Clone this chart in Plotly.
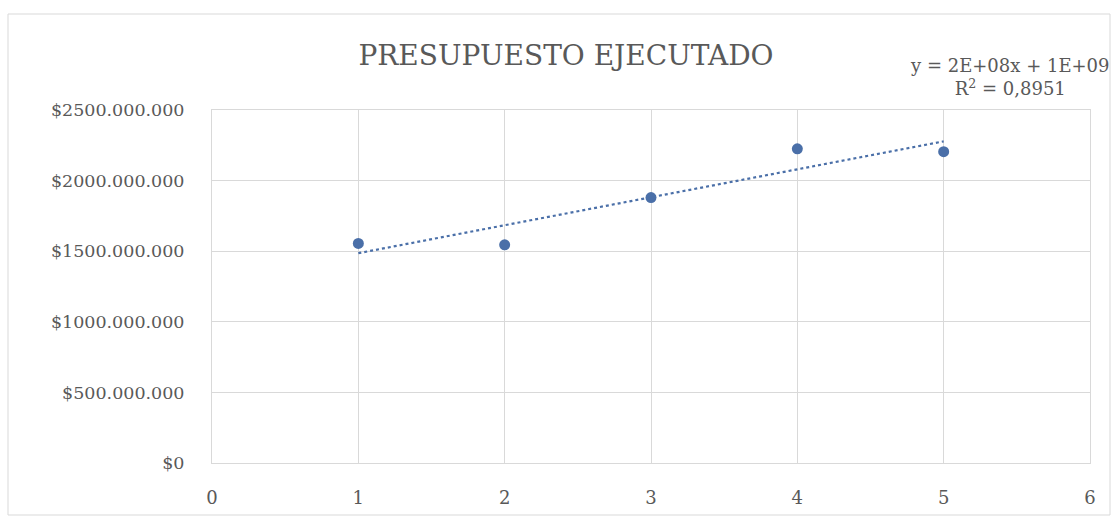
import numpy as np
import plotly.graph_objects as go

x_vals = [1, 2, 3, 4, 5]
y_vals = [1555000000, 1545000000, 1880000000, 2225000000, 2205000000]
y_ticks = [0, 500000000, 1000000000, 1500000000, 2000000000, 2500000000]
y_ticklabels = ["$0", "$500.000.000", "$1000.000.000", "$1500.000.000", "$2000.000.000", "$2500.000.000"]
x_ticks = [0, 1, 2, 3, 4, 5, 6]
title_text = "PRESUPUESTO EJECUTADO"
eq_text = "y = 2E+08x + 1E+09<br>R<sup>2</sup> = 0,8951"

slope, intercept = np.polyfit(x_vals, y_vals, 1)
trend_x = [min(x_vals), max(x_vals)]
trend_y = [slope * v + intercept for v in trend_x]

W, H = 1117, 520
L, R, T, B = 212, 27, 110, 57
pw = W - L - R
ph = H - T - B

def px_x(p):
    return (p - L) / pw

def px_y(p):
    return (H - B - p) / ph

blue = "#4a6fa8"
grid = "#d9d9d9"
txt = "#595959"
font_family = "DejaVu Serif"

fig = go.Figure()
fig.add_trace(go.Scatter(x=trend_x, y=trend_y, mode="lines",
                         line=dict(color=blue, width=2.2, dash="dot"),
                         showlegend=False, hoverinfo="skip"))
fig.add_trace(go.Scatter(x=x_vals, y=y_vals, mode="markers",
                         marker=dict(color=blue, size=11),
                         showlegend=False))

fig.update_layout(
    width=W, height=H,
    margin=dict(l=L, r=R, t=T, b=B),
    paper_bgcolor="white", plot_bgcolor="white",
    font=dict(family=font_family, color=txt, size=18),
    title=dict(text=title_text, x=566 / W, xref="container", xanchor="center",
               y=1 - 55 / H, yref="container", yanchor="middle",
               font=dict(size=28, color=txt, family=font_family)),
    xaxis=dict(range=[0, 6], tickvals=x_ticks, showgrid=True, gridcolor=grid, gridwidth=1,
               zeroline=False, showline=True, linecolor=grid, linewidth=1, mirror=True,
               ticks="", ticklabelstandoff=18, tickfont=dict(size=18, color=txt)),
    yaxis=dict(range=[0, 2500000000], tickvals=y_ticks, ticktext=y_ticklabels,
               showgrid=True, gridcolor=grid, gridwidth=1,
               zeroline=False, showline=True, linecolor=grid, linewidth=1, mirror=True,
               ticks="", ticklabelstandoff=23, tickfont=dict(size=17.5, color=txt)),
)

fig.add_annotation(text=eq_text, xref="paper", yref="paper",
                   x=px_x(1010), y=px_y(77), xanchor="center", yanchor="middle",
                   showarrow=False, align="center",
                   font=dict(size=18, color=txt, family=font_family))

fig.add_shape(type="rect", xref="paper", yref="paper",
              x0=px_x(8), x1=px_x(1110), y0=px_y(515), y1=px_y(14),
              line=dict(color="#d9d9d9", width=1), layer="below")

fig.write_html("out.html", config={"displayModeBar": False},
               post_script="document.body.style.margin='0';")
